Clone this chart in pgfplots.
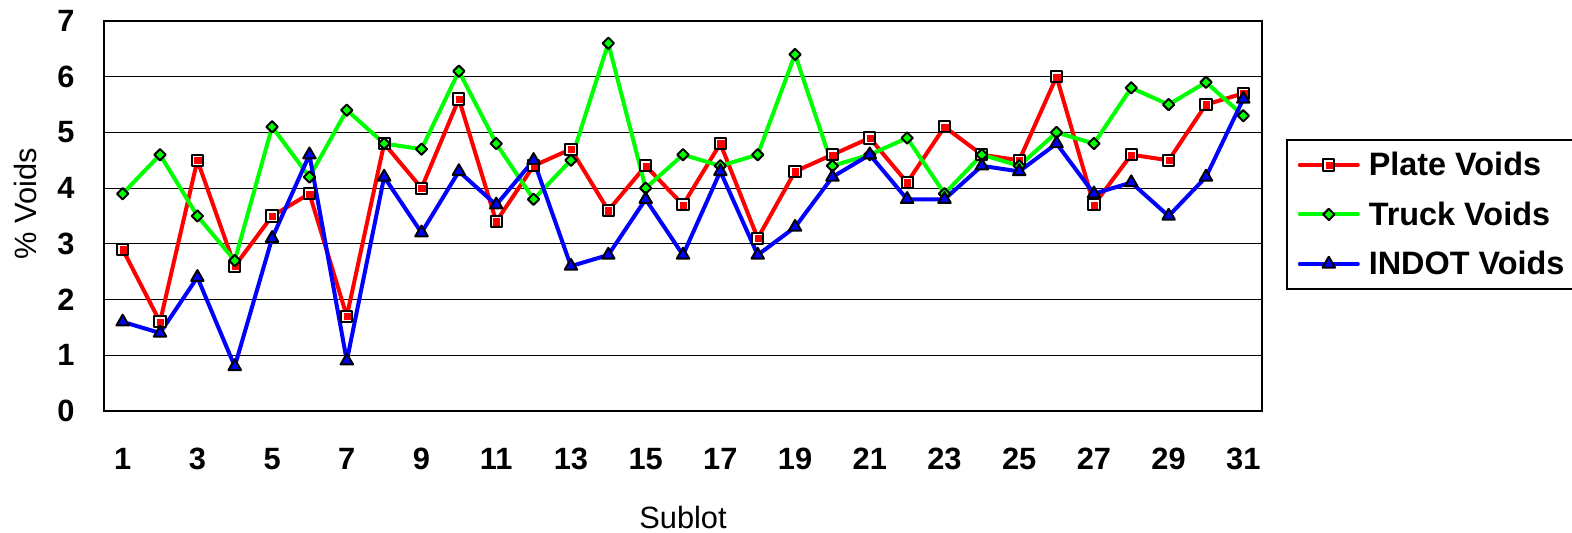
\documentclass[border=0pt]{standalone}
\usepackage{fontspec}
\setmainfont{Liberation Sans}
\usepackage{pgfplots}
\pgfplotsset{compat=1.18}

% square with black rim, white ring and red core (Excel style)
\pgfdeclareplotmark{platesq}{%
  \pgfpathrectangle{\pgfqpoint{-\pgfplotmarksize}{-\pgfplotmarksize}}{\pgfqpoint{2\pgfplotmarksize}{2\pgfplotmarksize}}%
  \pgfsetfillcolor{white}\pgfusepathqfillstroke
  \pgfpathrectangle{\pgfqpoint{-0.55\pgfplotmarksize}{-0.75\pgfplotmarksize}}{\pgfqpoint{1.3\pgfplotmarksize}{1.3\pgfplotmarksize}}%
  \pgfsetfillcolor{red}\pgfusepathqfill}

\begin{document}
\begin{tikzpicture}
\begin{axis}[
  width=579pt, height=195pt, scale only axis,
  xmin=0.5, xmax=31.5, ymin=0, ymax=7,
  xtick={1,3,...,31}, ytick={0,1,...,7},
  major tick length=0pt,
  ymajorgrids, grid style={black, line width=0.6pt},
  axis line style={line width=0.9pt},
  tick label style={font=\fontsize{15.4}{18}\selectfont\bfseries},
  /pgf/number format/assume math mode=true,
  xticklabel style={anchor=north, inner sep=0pt, yshift=-18.5pt},
  yticklabel style={anchor=east, inner sep=0pt, xshift=-14.5pt},
  xlabel={Sublot}, ylabel={\% Voids},
  label style={font=\fontsize{15.4}{18}\selectfont},
  xlabel style={at={(axis description cs:0.5,0)}, anchor=base, inner sep=0pt, yshift=-59pt},
  ylabel style={at={(axis description cs:-0.0579,0.531)}, anchor=base, inner sep=0pt},
  every axis plot/.append style={line width=2pt, line join=round, line cap=round},
  legend image code/.code={\draw[mark repeat=2,mark phase=2,#1] plot coordinates {(0pt,0pt)(14.5pt,0pt)(29pt,0pt)};},
  legend cell align=left,
  legend style={at={(1.0207,0.697)}, anchor=north west, draw=black, line width=0.8pt,
    inner xsep=5.5pt, inner ysep=4.5pt, row sep=8.75pt,
    font=\fontsize{16.2}{18}\selectfont\bfseries,
    nodes={inner sep=0pt, text height=13.5pt, text depth=2.5pt},
    /tikz/every odd column/.style={column sep=4.5pt}},
]
\addplot[color=red, mark=platesq, mark size=2.8pt, mark options={draw=black, line width=1pt, solid}] coordinates {
  (1,2.9) (2,1.6) (3,4.5) (4,2.6) (5,3.5) (6,3.9) (7,1.7) (8,4.8) (9,4.0) (10,5.6)
  (11,3.4) (12,4.4) (13,4.7) (14,3.6) (15,4.4) (16,3.7) (17,4.8) (18,3.1) (19,4.3) (20,4.6)
  (21,4.9) (22,4.1) (23,5.1) (24,4.6) (25,4.5) (26,6.0) (27,3.7) (28,4.6) (29,4.5) (30,5.5)
  (31,5.7) };
\addlegendentry{Plate Voids}

\addplot[color=green, mark=square*, mark size=2pt, mark options={rotate=45, draw=black, fill=green, line width=1pt, solid}] coordinates {
  (1,3.9) (2,4.6) (3,3.5) (4,2.7) (5,5.1) (6,4.2) (7,5.4) (8,4.8) (9,4.7) (10,6.1)
  (11,4.8) (12,3.8) (13,4.5) (14,6.6) (15,4.0) (16,4.6) (17,4.4) (18,4.6) (19,6.4) (20,4.4)
  (21,4.6) (22,4.9) (23,3.9) (24,4.6) (25,4.4) (26,5.0) (27,4.8) (28,5.8) (29,5.5) (30,5.9)
  (31,5.3) };
\addlegendentry{Truck Voids}

\addplot[color=blue, mark=triangle*, mark size=3.6pt, mark options={draw=black, fill=blue, line width=1pt, solid}] coordinates {
  (1,1.6) (2,1.4) (3,2.4) (4,0.8) (5,3.1) (6,4.6) (7,0.9) (8,4.2) (9,3.2) (10,4.3)
  (11,3.7) (12,4.5) (13,2.6) (14,2.8) (15,3.8) (16,2.8) (17,4.3) (18,2.8) (19,3.3) (20,4.2)
  (21,4.6) (22,3.8) (23,3.8) (24,4.4) (25,4.3) (26,4.8) (27,3.9) (28,4.1) (29,3.5) (30,4.2)
  (31,5.6) };
\addlegendentry{INDOT Voids}
\end{axis}
\pgfresetboundingbox
\path (-52pt,-61pt) rectangle (734pt,205.5pt);
\end{tikzpicture}
\end{document}
